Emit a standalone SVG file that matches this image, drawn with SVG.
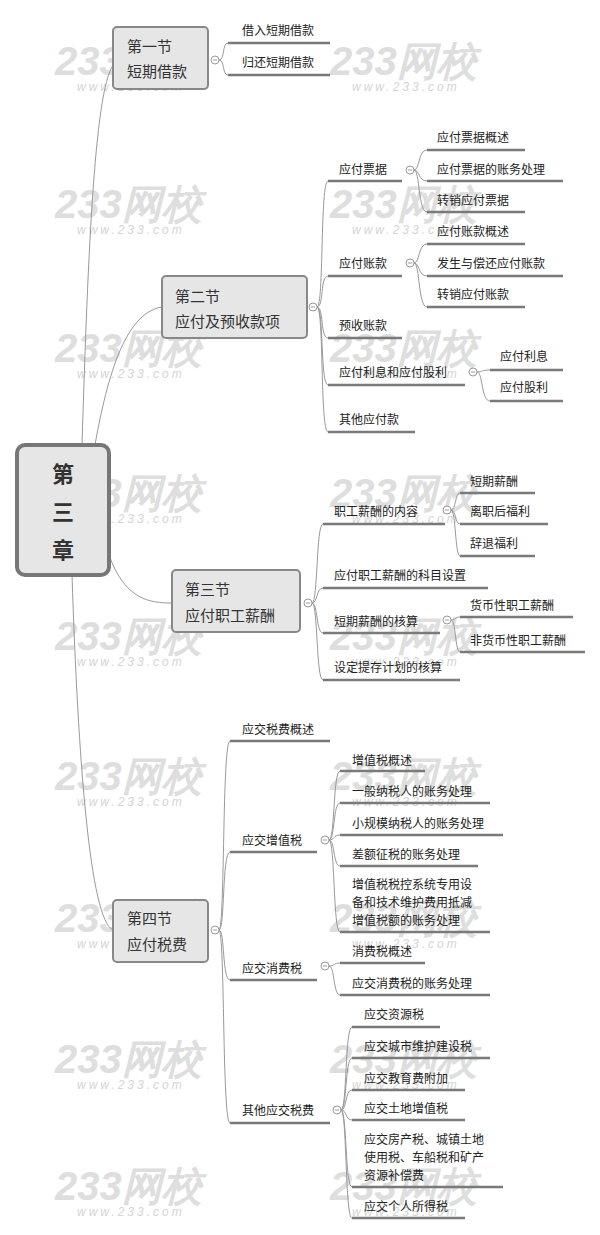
<svg xmlns="http://www.w3.org/2000/svg" width="600" height="1235" viewBox="0 0 600 1235">
<style>
text{font-family:"Noto Sans CJK SC","Liberation Sans",sans-serif;fill:#222}
.t{font-size:12px}
.s{font-size:15px;fill:#333}
.r{font-size:22px;font-weight:bold;fill:#333}
.u{stroke:#7a7a7a;stroke-width:2.5;fill:none}
.c{stroke:#999;stroke-width:1;fill:none}
.box{fill:#e6e6e6;stroke:#888;stroke-width:2}
.k{fill:#fff;stroke:#999;stroke-width:1}
.km{stroke:#999;stroke-width:1}
.wm{font-family:"Liberation Sans",sans-serif;font-size:40px;font-weight:bold;font-style:italic;fill:#dedede}
.ww{font-family:"Liberation Sans",sans-serif;font-size:12px;font-style:italic;fill:#d4d4d4;letter-spacing:3px}
</style>
<defs>
<g id="wmk"><text class="wm" x="0" y="0">233网校</text><text class="ww" x="22" y="16">www.233.com</text></g>
</defs>
<rect width="600" height="1235" fill="#fff"/>
<g id="watermarks">
<use href="#wmk" x="55" y="75"/><use href="#wmk" x="330" y="75"/>
<use href="#wmk" x="55" y="218"/><use href="#wmk" x="330" y="218"/>
<use href="#wmk" x="55" y="362"/><use href="#wmk" x="330" y="362"/>
<use href="#wmk" x="55" y="507"/><use href="#wmk" x="330" y="507"/>
<use href="#wmk" x="55" y="650"/><use href="#wmk" x="330" y="650"/>
<use href="#wmk" x="55" y="790"/><use href="#wmk" x="330" y="790"/>
<use href="#wmk" x="55" y="932"/><use href="#wmk" x="330" y="932"/>
<use href="#wmk" x="55" y="1073"/><use href="#wmk" x="330" y="1073"/>
<use href="#wmk" x="55" y="1200"/><use href="#wmk" x="330" y="1200"/>
</g>
<g id="connectors">
<!-- root to sections -->
<path class="c" d="M82 445 C 88 250, 95 80, 115 63"/>
<path class="c" d="M95 445 C 110 360, 130 312, 162 307"/>
<path class="c" d="M109 555 C 125 600, 150 603, 172 603"/>
<path class="c" d="M72 575 C 78 760, 90 920, 113 930"/>
<!-- S1 -->
<path class="c" d="M219 60 C 225 60, 222 43, 228 43"/>
<path class="c" d="M219 60 C 225 60, 222 75, 228 75"/>
<!-- S2 -->
<path class="c" d="M317 307 C 324 307, 320 181, 328 181"/>
<path class="c" d="M317 307 C 324 307, 320 276, 328 276"/>
<path class="c" d="M317 307 C 324 307, 320 338, 328 338"/>
<path class="c" d="M317 307 C 324 307, 320 385, 328 385"/>
<path class="c" d="M317 307 C 324 307, 320 432, 328 432"/>
<path class="c" d="M414 170 C 420 170, 418 150, 427 150"/>
<path class="c" d="M414 170 C 420 170, 418 181, 427 181"/>
<path class="c" d="M414 170 C 420 170, 418 212, 427 212"/>
<path class="c" d="M414 263 C 420 263, 418 244, 427 244"/>
<path class="c" d="M414 263 C 420 263, 418 276, 427 276"/>
<path class="c" d="M414 263 C 420 263, 418 307, 427 307"/>
<path class="c" d="M477 372 C 483 372, 481 370, 490 370"/>
<path class="c" d="M477 372 C 483 372, 481 401, 490 401"/>
<!-- S3 -->
<path class="c" d="M312 603 C 318 603, 316 524, 323 524"/>
<path class="c" d="M312 603 C 318 603, 316 588, 323 588"/>
<path class="c" d="M312 603 C 318 603, 316 633, 323 633"/>
<path class="c" d="M312 603 C 318 603, 316 680, 323 680"/>
<path class="c" d="M451 510 C 456 510, 455 493, 460 493"/>
<path class="c" d="M451 510 C 456 510, 455 524, 460 524"/>
<path class="c" d="M451 510 C 456 510, 455 556, 460 556"/>
<path class="c" d="M451 620 C 456 620, 455 617, 460 617"/>
<path class="c" d="M451 620 C 456 620, 455 652, 460 652"/>
<!-- S4 -->
<path class="c" d="M219 930 C 225 930, 222 741, 230 741"/>
<path class="c" d="M219 930 C 225 930, 222 852, 230 852"/>
<path class="c" d="M219 930 C 225 930, 222 980, 230 980"/>
<path class="c" d="M219 930 C 225 930, 222 1123, 230 1123"/>
<path class="c" d="M329 840 C 335 840, 333 771, 340 771"/>
<path class="c" d="M329 840 C 335 840, 333 803, 340 803"/>
<path class="c" d="M329 840 C 335 840, 333 835, 340 835"/>
<path class="c" d="M329 840 C 335 840, 333 866, 340 866"/>
<path class="c" d="M329 840 C 335 840, 333 932, 340 932"/>
<path class="c" d="M329 966 C 335 966, 333 963, 340 963"/>
<path class="c" d="M329 966 C 335 966, 333 995, 340 995"/>
<path class="c" d="M341 1110 C 347 1110, 345 1027, 352 1027"/>
<path class="c" d="M341 1110 C 347 1110, 345 1058, 352 1058"/>
<path class="c" d="M341 1110 C 347 1110, 345 1090, 352 1090"/>
<path class="c" d="M341 1110 C 347 1110, 345 1120, 352 1120"/>
<path class="c" d="M341 1110 C 347 1110, 345 1187, 352 1187"/>
<path class="c" d="M341 1110 C 347 1110, 345 1218, 352 1218"/>
</g>
<g id="root">
<rect x="17" y="445" width="92" height="130" rx="8" fill="#e6e6e6" stroke="#777" stroke-width="4"/>
<text class="r" x="63" y="482" text-anchor="middle">第</text>
<text class="r" x="63" y="520" text-anchor="middle">三</text>
<text class="r" x="63" y="558" text-anchor="middle">章</text>
</g>
<g id="s1">
<rect class="box" x="113" y="27" width="95" height="62" rx="4"/>
<text class="s" x="127" y="52">第一节</text><text class="s" x="127" y="77">短期借款</text>
<circle class="k" cx="215" cy="60" r="4"/><line class="km" x1="213" y1="60" x2="217" y2="60"/>
</g>
<g id="s1c">
<text class="t" x="242" y="35">借入短期借款</text><line class="u" x1="228" y1="43" x2="330" y2="43"/>
<text class="t" x="242" y="67">归还短期借款</text><line class="u" x1="228" y1="75" x2="330" y2="75"/>
</g>
<g id="s2">
<rect class="box" x="162" y="276" width="145" height="62" rx="4"/>
<text class="s" x="175" y="302">第二节</text><text class="s" x="175" y="327">应付及预收款项</text>
<circle class="k" cx="313" cy="307" r="4"/><line class="km" x1="311" y1="307" x2="315" y2="307"/>
</g>
<g id="s2c">
<text class="t" x="339" y="174">应付票据</text><line class="u" x1="328" y1="181" x2="402" y2="181"/>
<circle class="k" cx="410" cy="170" r="4"/><line class="km" x1="408" y1="170" x2="412" y2="170"/>
<text class="t" x="437" y="142">应付票据概述</text><line class="u" x1="427" y1="150" x2="525" y2="150"/>
<text class="t" x="437" y="174">应付票据的账务处理</text><line class="u" x1="427" y1="181" x2="563" y2="181"/>
<text class="t" x="437" y="205">转销应付票据</text><line class="u" x1="427" y1="212" x2="525" y2="212"/>
<text class="t" x="339" y="268">应付账款</text><line class="u" x1="328" y1="276" x2="402" y2="276"/>
<circle class="k" cx="410" cy="263" r="4"/><line class="km" x1="408" y1="263" x2="412" y2="263"/>
<text class="t" x="437" y="236">应付账款概述</text><line class="u" x1="427" y1="244" x2="525" y2="244"/>
<text class="t" x="437" y="268">发生与偿还应付账款</text><line class="u" x1="427" y1="276" x2="563" y2="276"/>
<text class="t" x="437" y="299">转销应付账款</text><line class="u" x1="427" y1="307" x2="525" y2="307"/>
<text class="t" x="339" y="330">预收账款</text><line class="u" x1="328" y1="338" x2="402" y2="338"/>
<text class="t" x="339" y="377">应付利息和应付股利</text><line class="u" x1="328" y1="385" x2="465" y2="385"/>
<circle class="k" cx="473" cy="372" r="4"/><line class="km" x1="471" y1="372" x2="475" y2="372"/>
<text class="t" x="500" y="361">应付利息</text><line class="u" x1="490" y1="370" x2="563" y2="370"/>
<text class="t" x="500" y="392">应付股利</text><line class="u" x1="490" y1="401" x2="563" y2="401"/>
<text class="t" x="339" y="424">其他应付款</text><line class="u" x1="328" y1="432" x2="415" y2="432"/>
</g>
<g id="s3">
<rect class="box" x="172" y="570" width="128" height="62" rx="4"/>
<text class="s" x="185" y="595">第三节</text><text class="s" x="185" y="621">应付职工薪酬</text>
<circle class="k" cx="308" cy="603" r="4"/><line class="km" x1="306" y1="603" x2="310" y2="603"/>
</g>
<g id="s3c">
<text class="t" x="334" y="516">职工薪酬的内容</text><line class="u" x1="323" y1="524" x2="445" y2="524"/>
<circle class="k" cx="447" cy="510" r="4"/><line class="km" x1="445" y1="510" x2="449" y2="510"/>
<text class="t" x="470" y="486">短期薪酬</text><line class="u" x1="460" y1="493" x2="535" y2="493"/>
<text class="t" x="470" y="516">离职后福利</text><line class="u" x1="460" y1="524" x2="548" y2="524"/>
<text class="t" x="470" y="548">辞退福利</text><line class="u" x1="460" y1="556" x2="535" y2="556"/>
<text class="t" x="334" y="580">应付职工薪酬的科目设置</text><line class="u" x1="323" y1="588" x2="488" y2="588"/>
<text class="t" x="334" y="626">短期薪酬的核算</text><line class="u" x1="323" y1="633" x2="440" y2="633"/>
<circle class="k" cx="447" cy="620" r="4"/><line class="km" x1="445" y1="620" x2="449" y2="620"/>
<text class="t" x="470" y="610">货币性职工薪酬</text><line class="u" x1="460" y1="617" x2="573" y2="617"/>
<text class="t" x="470" y="645">非货币性职工薪酬</text><line class="u" x1="460" y1="652" x2="585" y2="652"/>
<text class="t" x="334" y="672">设定提存计划的核算</text><line class="u" x1="323" y1="680" x2="460" y2="680"/>
</g>
<g id="s4">
<rect class="box" x="113" y="900" width="95" height="62" rx="4"/>
<text class="s" x="127" y="924">第四节</text><text class="s" x="127" y="950">应付税费</text>
<circle class="k" cx="215" cy="930" r="4"/><line class="km" x1="213" y1="930" x2="217" y2="930"/>
</g>
<g id="s4c">
<text class="t" x="242" y="734">应交税费概述</text><line class="u" x1="230" y1="741" x2="330" y2="741"/>
<text class="t" x="242" y="845">应交增值税</text><line class="u" x1="230" y1="852" x2="317" y2="852"/>
<circle class="k" cx="325" cy="840" r="4"/><line class="km" x1="323" y1="840" x2="327" y2="840"/>
<text class="t" x="352" y="765">增值税概述</text><line class="u" x1="340" y1="771" x2="425" y2="771"/>
<text class="t" x="352" y="796">一般纳税人的账务处理</text><line class="u" x1="340" y1="803" x2="490" y2="803"/>
<text class="t" x="352" y="828">小规模纳税人的账务处理</text><line class="u" x1="340" y1="835" x2="503" y2="835"/>
<text class="t" x="352" y="859">差额征税的账务处理</text><line class="u" x1="340" y1="866" x2="478" y2="866"/>
<text class="t" x="352" y="889">增值税税控系统专用设</text>
<text class="t" x="352" y="907">备和技术维护费用抵减</text>
<text class="t" x="352" y="925">增值税额的账务处理</text><line class="u" x1="340" y1="932" x2="490" y2="932"/>
<text class="t" x="242" y="973">应交消费税</text><line class="u" x1="230" y1="980" x2="317" y2="980"/>
<circle class="k" cx="325" cy="966" r="4"/><line class="km" x1="323" y1="966" x2="327" y2="966"/>
<text class="t" x="352" y="956">消费税概述</text><line class="u" x1="340" y1="963" x2="425" y2="963"/>
<text class="t" x="352" y="988">应交消费税的账务处理</text><line class="u" x1="340" y1="995" x2="490" y2="995"/>
<text class="t" x="242" y="1115">其他应交税费</text><line class="u" x1="230" y1="1123" x2="330" y2="1123"/>
<circle class="k" cx="337" cy="1110" r="4"/><line class="km" x1="335" y1="1110" x2="339" y2="1110"/>
<text class="t" x="364" y="1019">应交资源税</text><line class="u" x1="352" y1="1027" x2="440" y2="1027"/>
<text class="t" x="364" y="1051">应交城市维护建设税</text><line class="u" x1="352" y1="1058" x2="490" y2="1058"/>
<text class="t" x="364" y="1083">应交教育费附加</text><line class="u" x1="352" y1="1090" x2="465" y2="1090"/>
<text class="t" x="364" y="1113">应交土地增值税</text><line class="u" x1="352" y1="1120" x2="465" y2="1120"/>
<text class="t" x="364" y="1144">应交房产税、城镇土地</text>
<text class="t" x="364" y="1162">使用税、车船税和矿产</text>
<text class="t" x="364" y="1180">资源补偿费</text><line class="u" x1="352" y1="1187" x2="503" y2="1187"/>
<text class="t" x="364" y="1211">应交个人所得税</text><line class="u" x1="352" y1="1218" x2="465" y2="1218"/>
</g>
</svg>
